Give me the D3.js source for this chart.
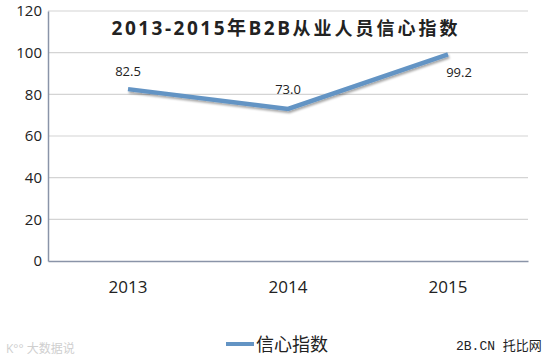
<!DOCTYPE html>
<html>
<head>
<meta charset="utf-8">
<script src="https://cdn.jsdelivr.net/npm/d3@7"></script>
<style>
body { margin: 0; background: #fff; }
text { font-family: "Open Sans", "Noto Sans CJK SC", sans-serif; fill: #222; }
</style>
</head>
<body>
<div id="chart"></div>
<script>
var years = ["2013", "2014", "2015"];
var values = [82.5, 73.0, 99.2];
var yTicks = [0, 20, 40, 60, 80, 100, 120];
var labelOffsets = [[0, -13], [0, -15], [11, 23]];

var svgWidth = 560, svgHeight = 362;
var margin = { top: 11, right: 32, bottom: 101, left: 48 };
var width = svgWidth - margin.left - margin.right;
var height = svgHeight - margin.top - margin.bottom;

var svg = d3.select("#chart").append("svg")
    .attr("width", svgWidth)
    .attr("height", svgHeight);

var defs = svg.append("defs");
var shadow = defs.append("filter").attr("id", "shadow")
    .attr("x", "-10%").attr("y", "-20%").attr("width", "120%").attr("height", "160%");
shadow.append("feDropShadow")
    .attr("dx", 1).attr("dy", 2).attr("stdDeviation", 1.2)
    .attr("flood-color", "#000").attr("flood-opacity", 0.35);

var chartGroup = svg.append("g")
    .attr("transform", `translate(${margin.left}, ${margin.top})`);

var x = d3.scaleBand().domain(years).range([0, width]);
var y = d3.scaleLinear().domain([0, 120]).range([height, 0]);

// gridlines
chartGroup.selectAll("line.grid")
    .data(yTicks.filter(d => d > 0))
    .enter().append("line")
    .attr("x1", 0).attr("x2", width)
    .attr("y1", d => y(d)).attr("y2", d => y(d))
    .attr("stroke", "#d4d4d4").attr("stroke-width", 1.2);

// axes
var leftAxis = d3.axisLeft(y).tickValues(yTicks).tickSize(0).tickPadding(6);
var yAxis = chartGroup.append("g").call(leftAxis);
yAxis.select(".domain").attr("stroke", "#8a94a8").attr("stroke-width", 1.5);
yAxis.selectAll("text").style("font-size", "15px").attr("fill", "#222");

var bottomAxis = d3.axisBottom(x).tickSize(0).tickPadding(20);
var xAxis = chartGroup.append("g")
    .attr("transform", `translate(0, ${height})`)
    .call(bottomAxis);
xAxis.select(".domain").attr("stroke", "#8a94a8").attr("stroke-width", 1.5);
xAxis.selectAll("text").style("font-size", "17px").attr("fill", "#222");

// title
var title = chartGroup.append("text")
    .attr("x", 238).attr("y", 24)
    .attr("text-anchor", "middle")
    .style("font-weight", "bold")
    .attr("fill", "#1a1a1a");
title.append("tspan").style("font-size", "19px").style("letter-spacing", "2.5px").text("2013-2015年B2B");
title.append("tspan").style("font-size", "18px").style("letter-spacing", "3px").text("从业人员信心指数");

// line
var line = d3.line()
    .x((d, i) => x(years[i]) + x.bandwidth() / 2)
    .y(d => y(d));

chartGroup.append("path")
    .datum(values)
    .attr("d", line)
    .attr("fill", "none")
    .attr("stroke", "#6394c4")
    .attr("stroke-width", 4.5)
    .attr("filter", "url(#shadow)");

// data labels
chartGroup.selectAll("text.val")
    .data(values)
    .enter().append("text")
    .attr("class", "val")
    .attr("x", (d, i) => x(years[i]) + x.bandwidth() / 2 + labelOffsets[i][0])
    .attr("y", (d, i) => y(d) + labelOffsets[i][1])
    .attr("text-anchor", "middle")
    .style("font-size", "13px")
    .text(d => d.toFixed(1));

// legend
svg.append("line")
    .attr("x1", 226).attr("x2", 254)
    .attr("y1", 344).attr("y2", 344)
    .attr("stroke", "#6394c4").attr("stroke-width", 4);
svg.append("text")
    .attr("x", 256).attr("y", 351)
    .style("font-size", "18px")
    .text("信心指数");

// watermarks
svg.append("text")
    .attr("x", 456).attr("y", 350)
    .style("font-family", "'Liberation Mono', 'Noto Sans CJK SC', monospace")
    .style("font-size", "13px")
    .text("2B.CN 托比网");
svg.append("text")
    .attr("x", 6).attr("y", 353)
    .style("font-size", "12px")
    .style("fill", "#cfcfcf")
    .text("K°° 大数据说");
</script>
</body>
</html>
